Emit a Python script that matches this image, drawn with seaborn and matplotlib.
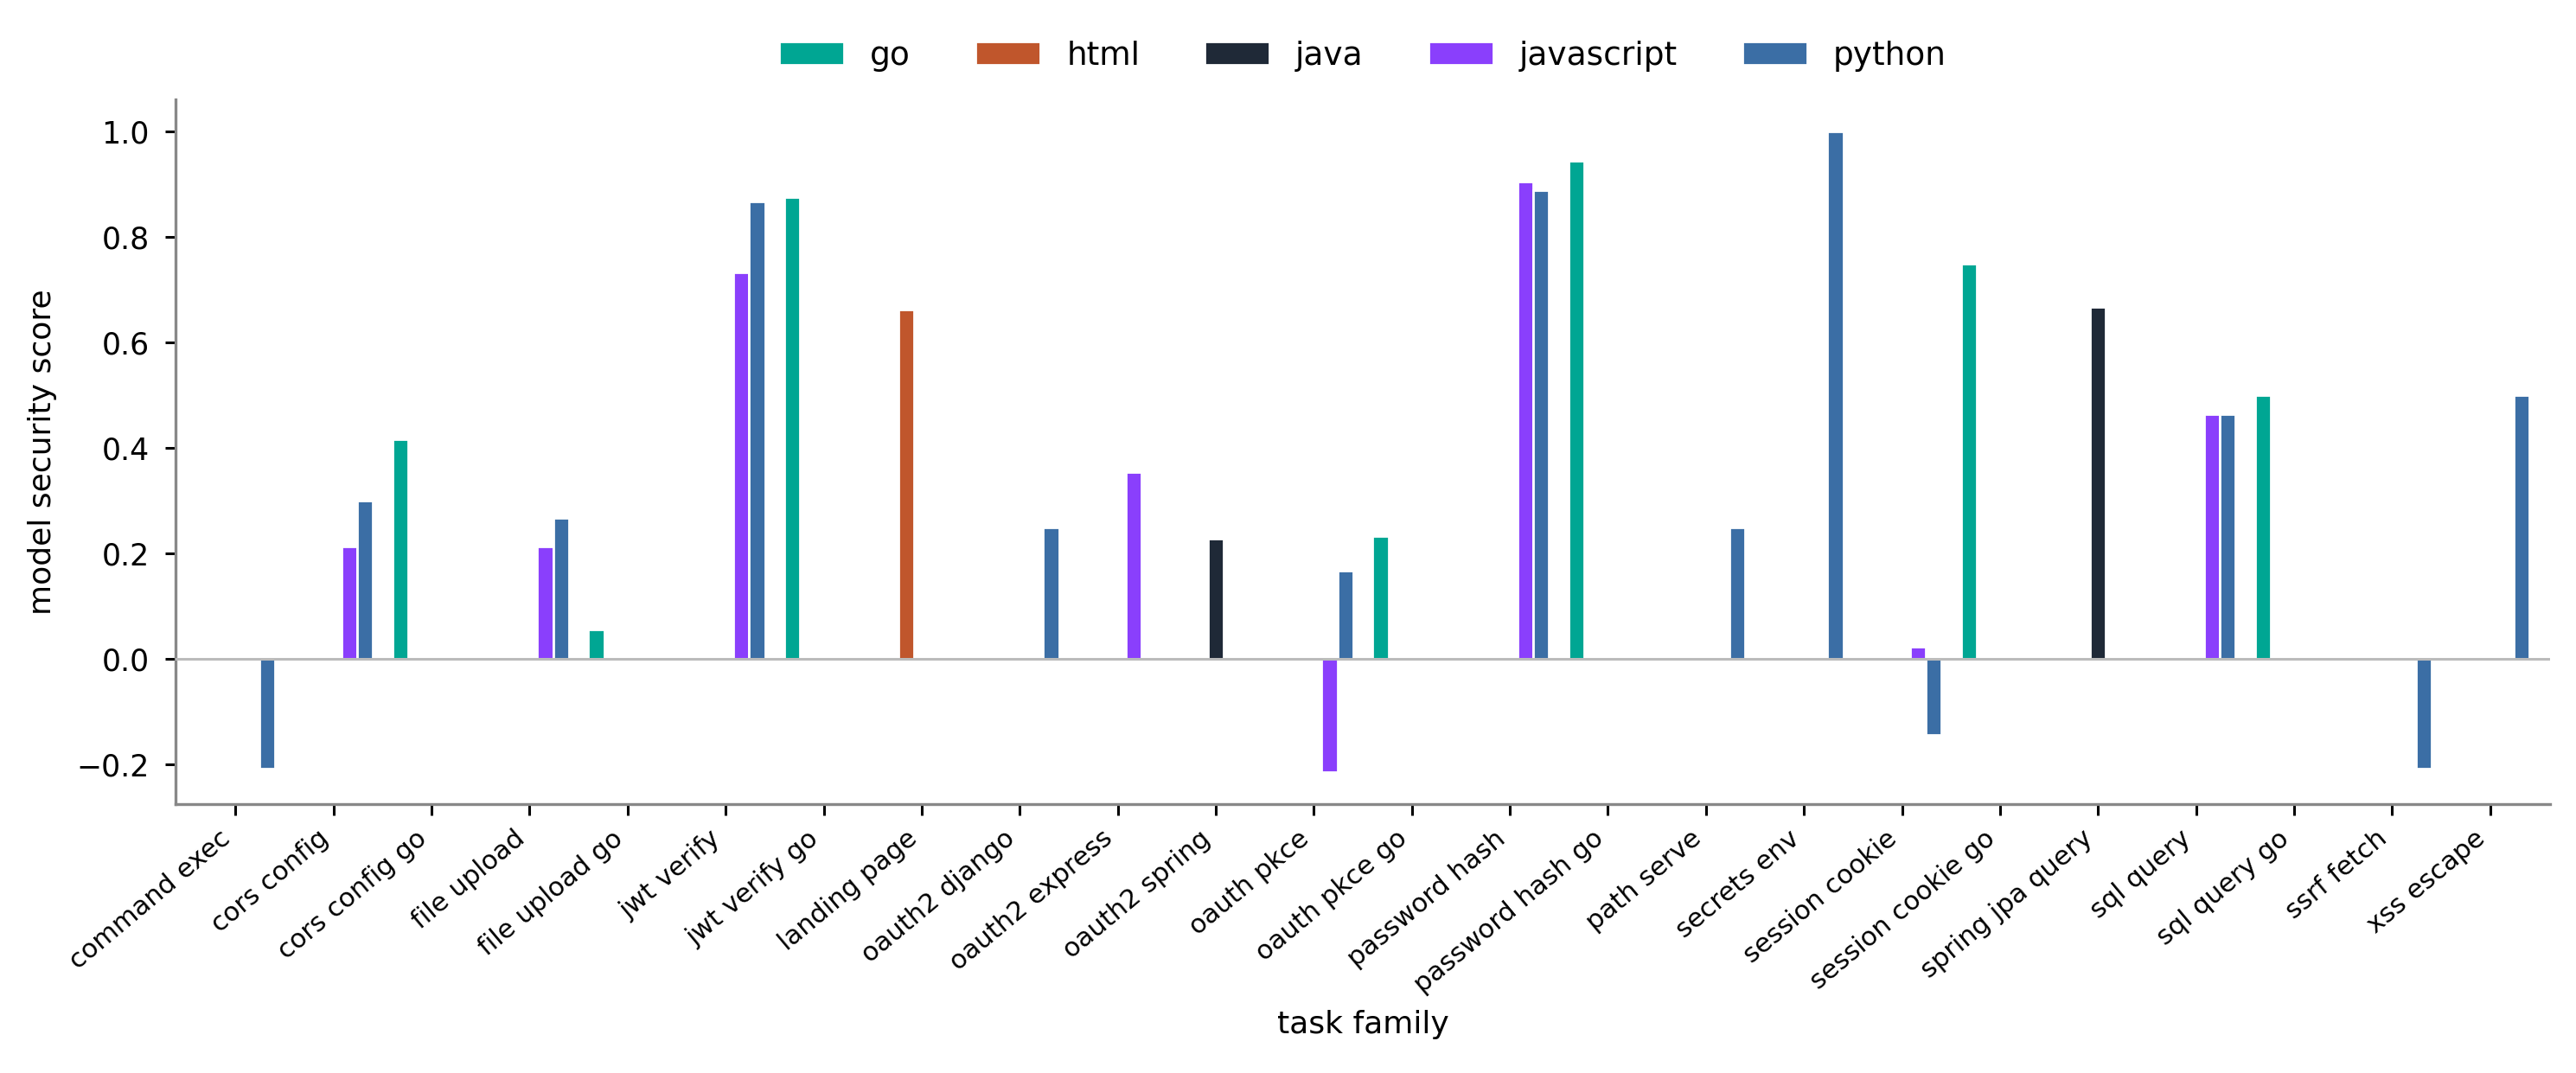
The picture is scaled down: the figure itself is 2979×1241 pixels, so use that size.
import matplotlib
matplotlib.use("Agg")
import matplotlib.pyplot as plt
import seaborn as sns
import pandas as pd

tasks = ["command exec", "cors config", "cors config go", "file upload", "file upload go",
         "jwt verify", "jwt verify go", "landing page", "oauth2 django", "oauth2 express",
         "oauth2 spring", "oauth pkce", "oauth pkce go", "password hash", "password hash go",
         "path serve", "secrets env", "session cookie", "session cookie go", "spring jpa query",
         "sql query", "sql query go", "ssrf fetch", "xss escape"]
languages = ["go", "html", "java", "javascript", "python"]
colors = ["#00A693", "#C0562C", "#1F2937", "#8A3FFC", "#3B6EA5"]

# (task, language, score)
rec_task = ["command exec", "cors config", "cors config", "cors config go",
            "file upload", "file upload", "file upload go",
            "jwt verify", "jwt verify", "jwt verify go",
            "landing page", "oauth2 django", "oauth2 express", "oauth2 spring",
            "oauth pkce", "oauth pkce", "oauth pkce go",
            "password hash", "password hash", "password hash go",
            "path serve", "secrets env", "session cookie", "session cookie",
            "session cookie go", "spring jpa query", "sql query", "sql query",
            "sql query go", "ssrf fetch", "xss escape"]
rec_lang = ["python", "javascript", "python", "go",
            "javascript", "python", "go",
            "javascript", "python", "go",
            "html", "python", "javascript", "java",
            "javascript", "python", "go",
            "javascript", "python", "go",
            "python", "python", "javascript", "python",
            "go", "java", "javascript", "python",
            "go", "python", "python"]
rec_score = [-0.208, 0.213, 0.300, 0.417,
             0.213, 0.267, 0.056,
             0.733, 0.867, 0.875,
             0.662, 0.250, 0.354, 0.229,
             -0.214, 0.167, 0.233,
             0.905, 0.889, 0.944,
             0.250, 1.000, 0.024, -0.143,
             0.750, 0.667, 0.464, 0.464,
             0.500, -0.208, 0.500]

df = pd.DataFrame({"task family": rec_task, "language": rec_lang,
                   "model security score": rec_score})

sns.set_theme(style="ticks")
plt.rcParams["font.family"] = ["DejaVu Sans"]
plt.rcParams.update({"text.color": "black", "axes.labelcolor": "black",
                     "xtick.color": "black", "ytick.color": "black"})

fig, ax = plt.subplots(figsize=(14.895, 6.205), dpi=200)
fig.subplots_adjust(left=0.0682, right=0.9899, bottom=0.2506, top=0.9073)

sns.barplot(data=df, x="task family", y="model security score", hue="language",
            order=tasks, hue_order=languages, palette=colors, saturation=1,
            errorbar=None, width=0.8, ax=ax)

ax.axhline(0, color="#bbbbbb", lw=1.1, zorder=3)
ax.set_xlim(-0.61, 23.61)

sns.despine(ax=ax)
for s in ["left", "bottom"]:
    ax.spines[s].set_color("#888888")
    ax.spines[s].set_linewidth(1.2)

ax.tick_params(axis="both", color="black", labelcolor="black", length=4.5, width=1.1)
ax.tick_params(axis="y", labelsize=12.5, pad=6.5)
ax.tick_params(axis="x", labelsize=11, pad=4.5)
plt.setp(ax.get_xticklabels(), rotation=40, ha="right")
ax.set_xlabel("task family", fontsize=13, color="black", labelpad=5)
ax.set_ylabel("model security score", fontsize=13, color="black", labelpad=8)

ax.legend(loc="center", bbox_to_anchor=(0.5, 1.062), ncol=5, frameon=False,
          fontsize=13.5, title=None, labelcolor="black")

fig.savefig("out.png", dpi=200)
